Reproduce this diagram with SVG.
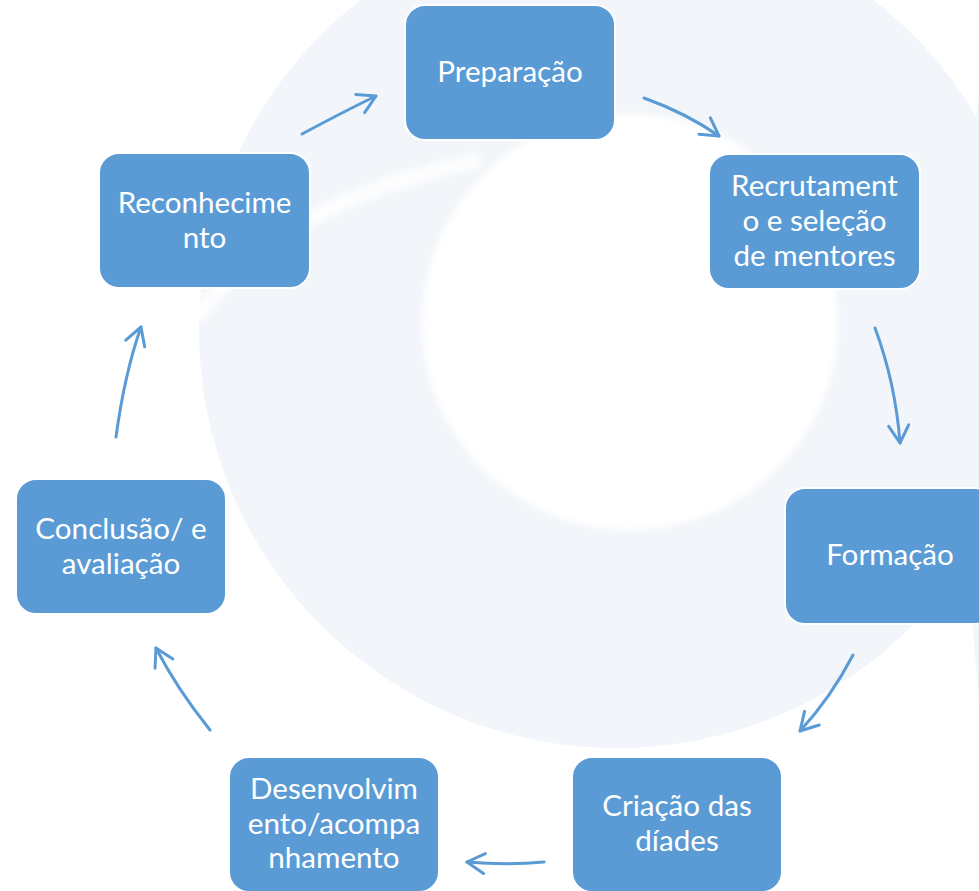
<svg xmlns="http://www.w3.org/2000/svg" width="979" height="891" viewBox="0 0 979 891">
  <defs>
    <style>
      .box { fill: #5B9BD5; stroke: #FFFFFF; stroke-width: 2; }
      .lbl { font-family: Lato, "Open Sans", "Liberation Sans", sans-serif; font-size: 29.6px; fill: #FFFFFF; text-anchor: middle; }
      .conn { fill: none; stroke: #5B9BD5; stroke-width: 3; stroke-linecap: round; marker-end: url(#chev); }
      .wm { fill: #F2F5F9; }
    </style>
    <marker id="chev" markerUnits="userSpaceOnUse" viewBox="-22 -13 26 26" refX="0" refY="0" markerWidth="26" markerHeight="26" orient="auto">
      <path d="M -17.5,-10 L 0,0 L -17.5,10" fill="none" stroke="#5B9BD5" stroke-width="3" stroke-linecap="round" stroke-linejoin="round"/>
    </marker>
    <filter id="soft" x="-10%" y="-10%" width="120%" height="120%">
      <feGaussianBlur stdDeviation="3"/>
    </filter>
  </defs>

  <g id="watermark">
    <rect x="0" y="0" width="979" height="891" fill="#FFFFFF"/>
    <circle class="wm" cx="617" cy="330" r="418"/>
    <path class="wm" d="M 979,95 C 958,250 958,480 979,700 Z"/>
    <circle cx="630" cy="322" r="208" fill="#FFFFFF" filter="url(#soft)"/>
    <path d="M 197,318 C 250,240 340,190 480,160" fill="none" stroke="#FFFFFF" stroke-width="16" opacity="0.8" filter="url(#soft)"/>
  </g>

  <g id="connectors">
    <path class="conn" d="M 302,134 Q 345,111 376,96"/>
    <path class="conn" d="M 644,98 Q 686,113 719,136"/>
    <path class="conn" d="M 875,328 Q 895.5,383 900,443"/>
    <path class="conn" d="M 853,655 Q 830.6,698 800,731"/>
    <path class="conn" d="M 544,862 Q 507,865.6 467,862"/>
    <path class="conn" d="M 210,730 Q 176.4,688 156,648"/>
    <path class="conn" d="M 116,437 Q 124.5,374 141,327"/>
  </g>

  <g id="preparacao">
    <rect class="box" x="405" y="5" width="210" height="135" rx="20"/>
    <text class="lbl" x="510" y="82">Preparação</text>
  </g>
  <g id="recrutamento">
    <rect class="box" x="709" y="154" width="211" height="135" rx="20"/>
    <text class="lbl" x="814.5" y="196">Recrutament</text>
    <text class="lbl" x="814.5" y="231">o e seleção</text>
    <text class="lbl" x="814.5" y="266">de mentores</text>
  </g>
  <g id="formacao">
    <rect class="box" x="785" y="488" width="210" height="136" rx="20"/>
    <text class="lbl" x="890" y="565">Formação</text>
  </g>
  <g id="criacao">
    <rect class="box" x="572" y="757" width="210" height="135" rx="20"/>
    <text class="lbl" x="677" y="816">Criação das</text>
    <text class="lbl" x="677" y="851">díades</text>
  </g>
  <g id="desenvolvimento">
    <rect class="box" x="229" y="757" width="210" height="135" rx="20"/>
    <text class="lbl" x="334" y="799">Desenvolvim</text>
    <text class="lbl" x="334" y="833.5">ento/acompa</text>
    <text class="lbl" x="334" y="868">nhamento</text>
  </g>
  <g id="conclusao">
    <rect class="box" x="16" y="479" width="210" height="135" rx="20"/>
    <text class="lbl" x="121" y="539">Conclusão/ e</text>
    <text class="lbl" x="121" y="574">avaliação</text>
  </g>
  <g id="reconhecimento">
    <rect class="box" x="99" y="153" width="211" height="135" rx="20"/>
    <text class="lbl" x="204.5" y="212.5">Reconhecime</text>
    <text class="lbl" x="204.5" y="247.5">nto</text>
  </g>
</svg>
